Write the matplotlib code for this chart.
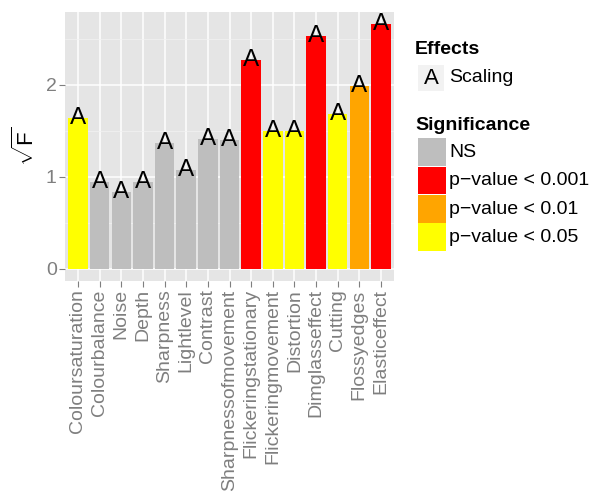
import matplotlib
matplotlib.use("Agg")
import matplotlib.pyplot as plt
from matplotlib.patches import Rectangle
import numpy as np

plt.rcParams['font.family'] = ['Liberation Sans', 'DejaVu Sans']
plt.rcParams['mathtext.fontset'] = 'custom'
plt.rcParams['mathtext.rm'] = 'Liberation Sans'
plt.rcParams['mathtext.it'] = 'Liberation Sans'

categories = ["Coloursaturation", "Colourbalance", "Noise", "Depth", "Sharpness",
              "Lightlevel", "Contrast", "Sharpnessofmovement", "Flickeringstationary",
              "Flickeringmovement", "Distortion", "Dimglasseffect", "Cutting",
              "Flossyedges", "Elasticeffect"]
values = [1.645, 0.945, 0.83, 0.94, 1.37, 1.076, 1.416, 1.406, 2.27, 1.50, 1.50,
          2.536, 1.685, 1.99, 2.66]
significance = ["p-value < 0.05", "NS", "NS", "NS", "NS", "NS", "NS", "NS",
                "p-value < 0.001", "p-value < 0.05", "p-value < 0.05",
                "p-value < 0.001", "p-value < 0.05", "p-value < 0.01", "p-value < 0.001"]
sig_levels = ["NS", "p-value < 0.001", "p-value < 0.01", "p-value < 0.05"]
sig_colors = {"NS": "#BEBEBE", "p-value < 0.001": "#FF0000",
              "p-value < 0.01": "#FFA500", "p-value < 0.05": "#FFFF00"}
effect_label = "A"
effect_name = "Scaling"

fig = plt.figure(figsize=(5.89, 4.92), dpi=100)
ax = fig.add_axes([65/589, 1-281/492, (394-65)/589, (281-12)/492])
ax.set_facecolor("#E5E5E5")
for s in ax.spines.values():
    s.set_visible(False)

x = np.arange(len(categories))
ax.bar(x, values, width=0.9, color=[sig_colors[s] for s in significance], zorder=3)
for xi, v in zip(x, values):
    ax.text(xi, v, effect_label, ha="center", va="center", fontsize=17.5, color="black", zorder=4)

ymax = max(values)
ax.set_ylim(-0.05*ymax, ymax*1.05)
ax.set_xlim(-0.6, len(categories)-0.4)
ax.set_yticks([0, 1, 2])
ax.set_yticks([0.5, 1.5, 2.5], minor=True)
ax.set_xticks(x)
ax.set_xticklabels(categories, rotation=90, ha="center", va="top")
ax.grid(True, which="major", color="white", lw=1.1, zorder=1)
ax.grid(True, which="minor", axis="y", color="#F2F2F2", lw=0.5, zorder=1)
ax.tick_params(axis="both", which="major", length=4, width=0.8, color="#7F7F7F",
               labelcolor="#7F7F7F", labelsize=14, pad=2)
ax.tick_params(axis="both", which="minor", length=0)
ax.set_ylabel(r"$\sqrt{\mathrm{F}}$", fontsize=16, color="black", labelpad=5)

# Legend
def fx(px): return px/589
def fy(py): return 1-py/492
fig.text(fx(415), fy(50), "Effects", fontsize=14, fontweight="bold", va="center", ha="left")
fig.patches.append(Rectangle((fx(418), fy(91)), 26/589, 26/492, transform=fig.transFigure,
                             facecolor="#F2F2F2", edgecolor="none"))
fig.text(fx(431), fy(78), effect_label, fontsize=16, ha="center", va="center")
fig.text(fx(449), fy(78), effect_name, fontsize=14, ha="left", va="center")
fig.text(fx(415), fy(125), "Significance", fontsize=14, fontweight="bold", va="center", ha="left")
top = 138
h = 28.5
for i, lev in enumerate(sig_levels):
    y0 = top + i*h
    fig.patches.append(Rectangle((fx(418), fy(y0+h-0.8)), 28/589, (h-0.8)/492,
                                 transform=fig.transFigure, facecolor=sig_colors[lev],
                                 edgecolor="none"))
    fig.text(fx(449), fy(y0+h/2), lev.replace("-", "\u2212"), fontsize=14, ha="left", va="center")

fig.savefig("out.png", dpi=100)
